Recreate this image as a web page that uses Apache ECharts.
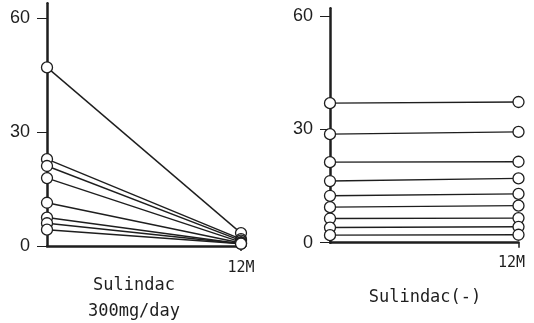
<!DOCTYPE html>
<html>
<head>
<meta charset="utf-8">
<script src="https://cdn.jsdelivr.net/npm/echarts@6/dist/echarts.min.js"></script>
<style>
html,body{margin:0;padding:0;background:#fff;}
#c{width:534px;height:323px;}
</style>
</head>
<body>
<div id="c"></div>
<script>
// Data
const yTicks = [0, 30, 60];
const xLabel = '12M';
const leftStart = [47.1, 22.9, 21.1, 17.9, 11.4, 7.5, 6.0, 4.3];
const leftEnd   = [3.4, 1.8, 1.4, 1.0, 0.8, 0.6, 0.6, 0.6];
const rightStart = [36.9, 28.7, 21.3, 16.3, 12.4, 9.4, 6.4, 4.0, 2.0];
const rightEnd   = [37.2, 29.3, 21.4, 17.0, 12.9, 9.8, 6.5, 4.2, 2.1];
const leftTitle = 'Sulindac\n300mg/day';
const rightTitle = 'Sulindac(-)';

const ink = '#1e1e1e';
const chart = echarts.init(document.getElementById('c'), null, {renderer: 'canvas'});

function xAxis(gi, pad, margin) {
  return {
    type: 'value', gridIndex: gi, min: 0, max: 12,
    axisLine: {show: true, lineStyle: {color: ink, width: 2.5}},
    axisTick: {show: true, customValues: [12], length: 5, lineStyle: {color: ink, width: 1.5}},
    axisLabel: {show: true, customValues: [12], formatter: () => xLabel, margin: margin,
      fontFamily: 'DejaVu Sans Mono', fontSize: 15, color: ink, padding: pad},
    splitLine: {show: false}
  };
}
function yAxis(gi, max) {
  return {
    type: 'value', gridIndex: gi, min: 0, max: max,
    axisLine: {show: true, onZero: false, lineStyle: {color: ink, width: 2.5}},
    axisTick: {show: true, customValues: yTicks, length: 10, lineStyle: {color: ink, width: 1}},
    axisLabel: {show: true, customValues: yTicks, margin: 17,
      fontFamily: 'Liberation Sans', fontSize: 18, color: ink},
    splitLine: {show: false}
  };
}

const series = [];
function addLines(starts, ends, gi) {
  starts.forEach((v, i) => {
    series.push({
      type: 'line', xAxisIndex: gi, yAxisIndex: gi,
      data: [[0, v], [12, ends[i]]],
      symbol: 'circle', symbolSize: 11, showSymbol: true, clip: false,
      lineStyle: {color: ink, width: 1.4},
      itemStyle: {color: '#fff', borderColor: ink, borderWidth: 1.3},
      animation: false, silent: true
    });
  });
}
addLines(leftStart, leftEnd, 0);
addLines(rightStart, rightEnd, 1);

chart.setOption({
  backgroundColor: '#fff',
  animation: false,
  title: [
    {text: leftTitle, left: 129, top: 268, textAlign: 'center',
      textStyle: {fontFamily: 'DejaVu Sans Mono', fontSize: 17, fontWeight: 'normal', color: ink, lineHeight: 26}},
    {text: rightTitle, left: 420, top: 282, textAlign: 'center',
      textStyle: {fontFamily: 'DejaVu Sans Mono', fontSize: 17, fontWeight: 'normal', color: ink, lineHeight: 22}}
  ],
  grid: [
    {left: 47, width: 194, top: 3.3, height: 242.7},
    {left: 330, width: 188.5, top: 8.2, height: 234.5}
  ],
  xAxis: [xAxis(0, 0, 15), xAxis(1, [0, 14, 0, 0], 13)],
  yAxis: [yAxis(0, 64), yAxis(1, 62)],
  series: series
});
</script>
</body>
</html>
